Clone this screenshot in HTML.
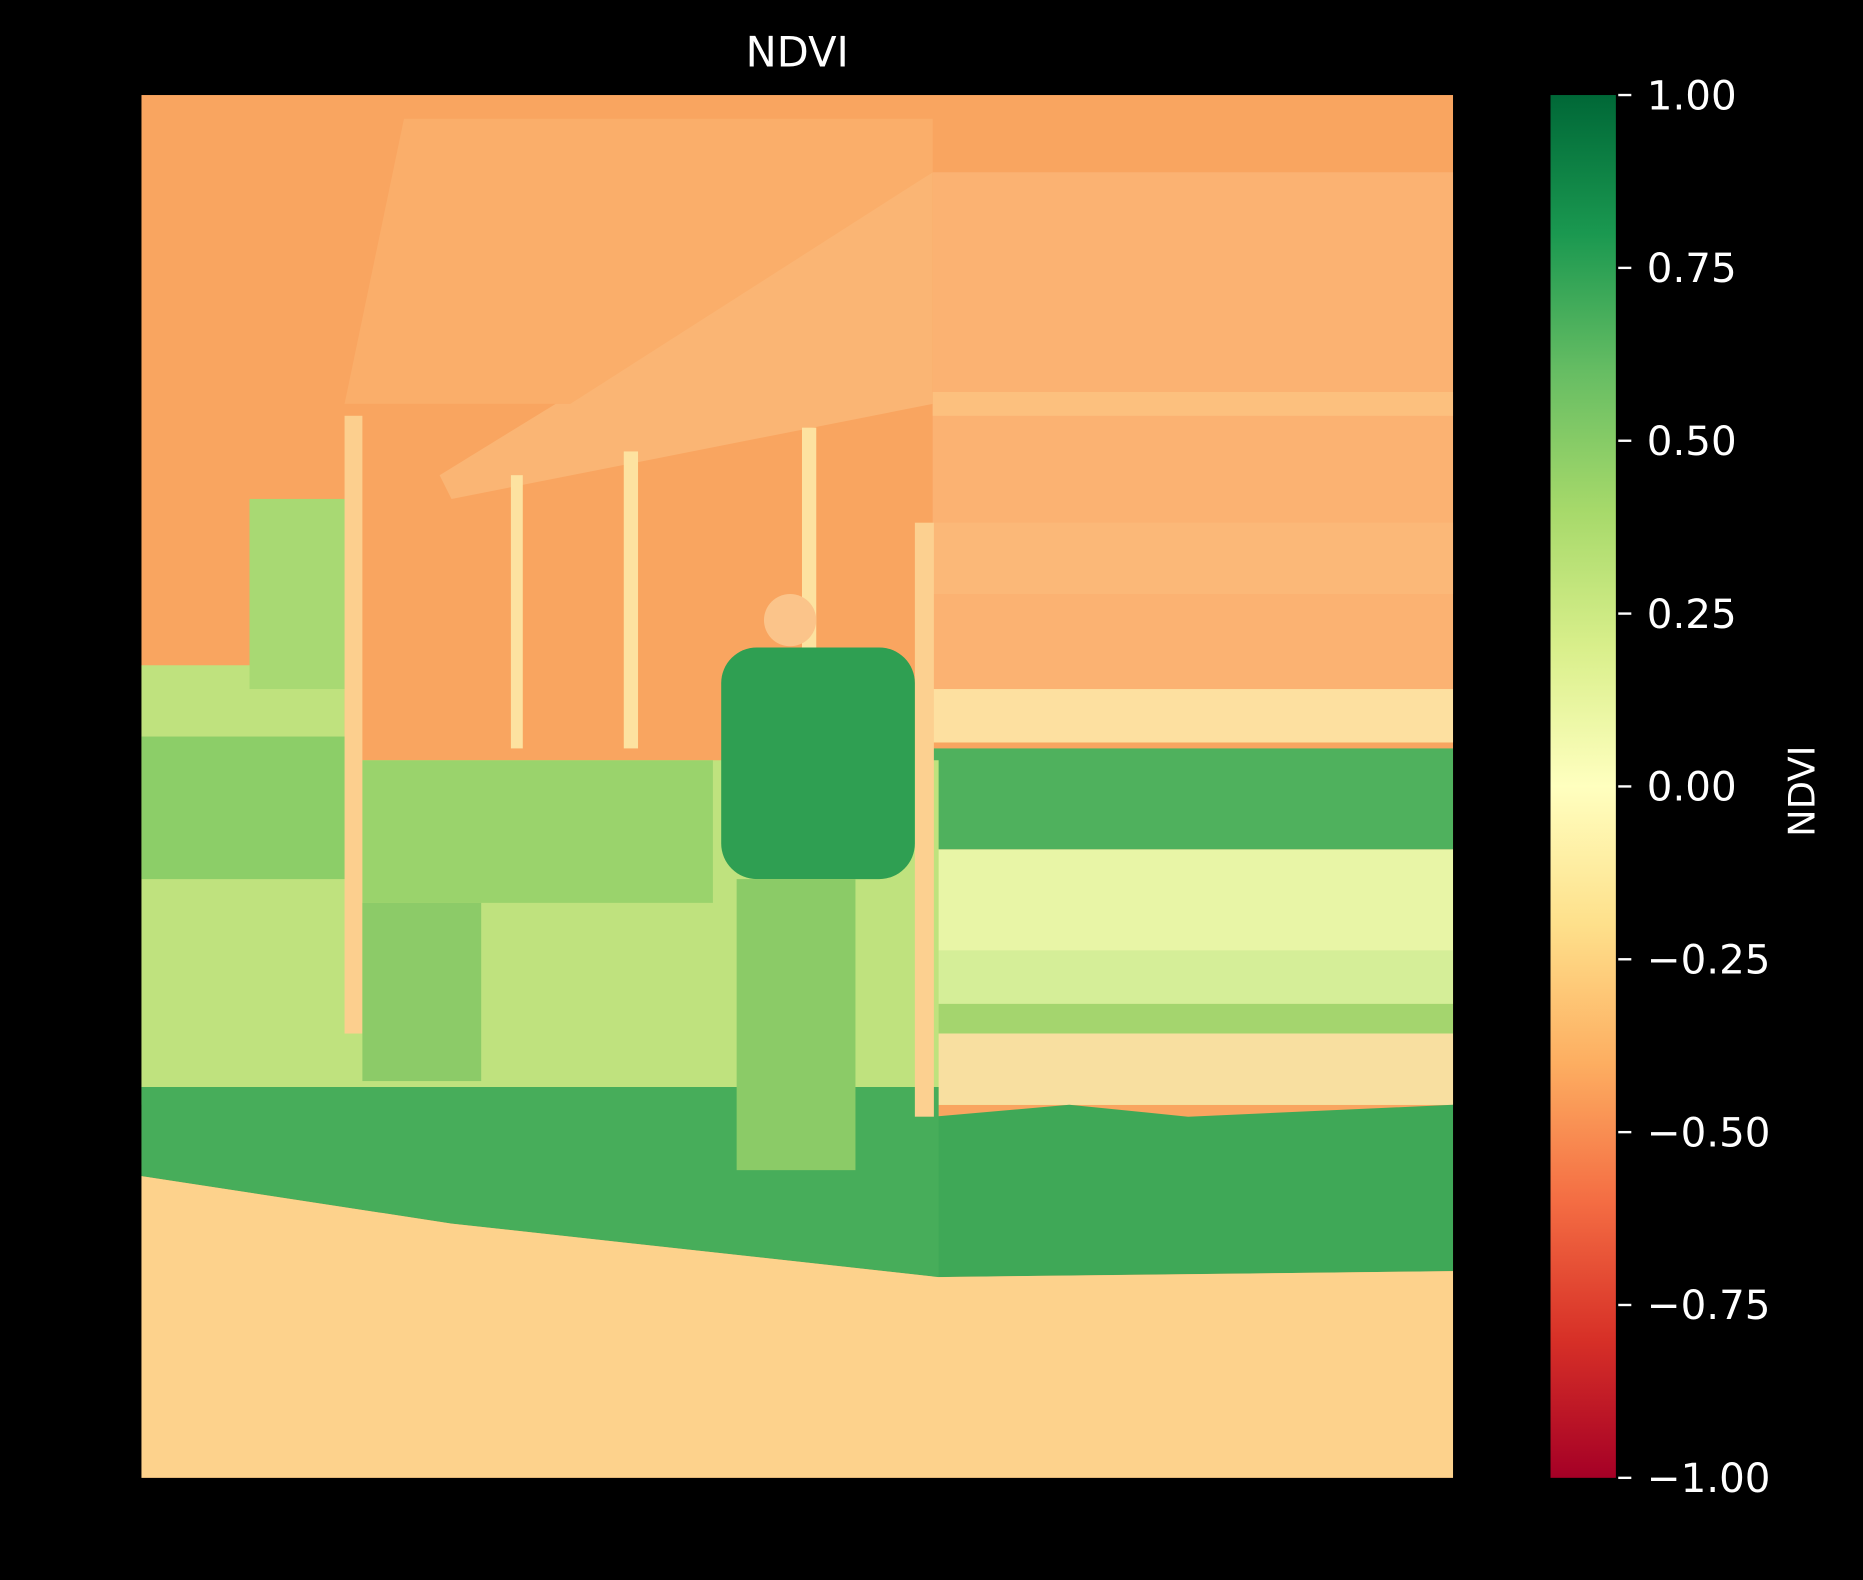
<!DOCTYPE html>
<html><head><meta charset="utf-8"><style>
html,body{margin:0;padding:0;background:#000;}
svg{display:block;}
text{font-family:"DejaVu Sans","Liberation Sans",sans-serif;fill:#fff;}
</style></head><body>
<svg id="chart" width="1863" height="1580" viewBox="0 0 1568 1330" preserveAspectRatio="none">
<defs>
<linearGradient id="cmap" x1="0" y1="1" x2="0" y2="0">
<stop offset="0" stop-color="#a50026"/><stop offset="0.1" stop-color="#d73027"/>
<stop offset="0.2" stop-color="#f46d43"/><stop offset="0.3" stop-color="#fdae61"/>
<stop offset="0.4" stop-color="#fee08b"/><stop offset="0.5" stop-color="#ffffbf"/>
<stop offset="0.6" stop-color="#d9ef8b"/><stop offset="0.7" stop-color="#a6d96a"/>
<stop offset="0.8" stop-color="#66bd63"/><stop offset="0.9" stop-color="#1a9850"/>
<stop offset="1" stop-color="#006837"/>
</linearGradient>
<clipPath id="imgclip"><rect x="119" y="80" width="1104" height="1164"/></clipPath>
</defs>
<text x="671" y="56" font-size="35" text-anchor="middle">NDVI</text>
<g clip-path="url(#imgclip)">
<rect x="119" y="80" width="1104" height="1164" fill="#f9a560"/>
<rect x="785" y="145" width="438" height="435" fill="#fbb272"/>
<rect x="785" y="330" width="438" height="20" fill="#fcc07e"/>
<rect x="785" y="440" width="438" height="60" fill="#fbb878"/>
<polygon points="370,400 785,145 785,340 380,420" fill="#fab574"/>
<polygon points="290,340 340,100 785,100 785,145 480,340" fill="#faae6a"/>
<rect x="785" y="580" width="438" height="45" fill="#fde0a0"/>
<rect x="785" y="630" width="438" height="85" fill="#4fb15d"/>
<rect x="785" y="715" width="438" height="215" fill="#e8f5a6"/>
<rect x="785" y="800" width="438" height="45" fill="#d5ee98"/>
<rect x="785" y="845" width="438" height="25" fill="#a4d56e"/>
<rect x="785" y="870" width="438" height="60" fill="#f8dfa0"/>
<polygon points="785,940 900,930 1000,940 1223,930 1223,1070 785,1075" fill="#3fa857"/>
<polygon points="119,560 290,560 290,640 790,640 790,930 119,930" fill="#bfe27e"/>
<rect x="119" y="620" width="180" height="120" fill="#8cce68"/>
<rect x="300" y="640" width="300" height="120" fill="#9ad36c"/>
<rect x="210" y="420" width="85" height="160" fill="#a8d973"/>
<polygon points="119,915 790,915 790,1075 380,1030 119,990" fill="#47ad5a"/>
<polygon points="119,990 380,1030 790,1075 1223,1070 1223,1244 119,1244" fill="#fdd28c"/>
<rect x="290" y="350" width="15" height="520" fill="#fccf8e"/>
<rect x="770" y="440" width="16" height="500" fill="#fcd090"/>
<rect x="430" y="400" width="10" height="230" fill="#fde2a0"/>
<rect x="525" y="380" width="12" height="250" fill="#fde2a0"/>
<rect x="675" y="360" width="12" height="200" fill="#fde2a0"/>
<rect x="305" y="760" width="100" height="150" fill="#8ccb68"/>
<rect x="607" y="545" width="163" height="195" rx="30" fill="#2f9f52"/>
<rect x="620" y="740" width="100" height="245" fill="#8bcb67"/>
<circle cx="665" cy="522" r="22" fill="#fbc48a"/>
</g>
<rect x="1305" y="80" width="55" height="1164" fill="url(#cmap)"/>
<g id="cbticks"></g>
<text x="1527" y="666" font-size="31" text-anchor="middle" transform="rotate(-90 1527 666)">NDVI</text>
</svg>
<script>
const tickValues=[-1,-0.75,-0.5,-0.25,0,0.25,0.5,0.75,1];
const tickLabels=["\u22121.00","\u22120.75","\u22120.50","\u22120.25","0.00","0.25","0.50","0.75","1.00"];
const vmin=-1,vmax=1,y0=1244,y1=80;
function yScale(v){return y0+(v-vmin)/(vmax-vmin)*(y1-y0);}
const g=document.getElementById('cbticks');
const ns='http://www.w3.org/2000/svg';
tickValues.forEach((v,i)=>{
 const y=yScale(v);
 const l=document.createElementNS(ns,'line');
 
 
 l.setAttribute('x1',1362);l.setAttribute('x2',1373);l.setAttribute('y1',y);l.setAttribute('y2',y);
 l.setAttribute('stroke','#fff');l.setAttribute('stroke-width','2');
 g.appendChild(l);
 const t=document.createElementNS(ns,'text');
 
 
 t.setAttribute('x',1386);t.setAttribute('y',y+12);t.setAttribute('font-size','34');
 t.textContent=tickLabels[i];
 g.appendChild(t);
});
</script>
</body></html>
